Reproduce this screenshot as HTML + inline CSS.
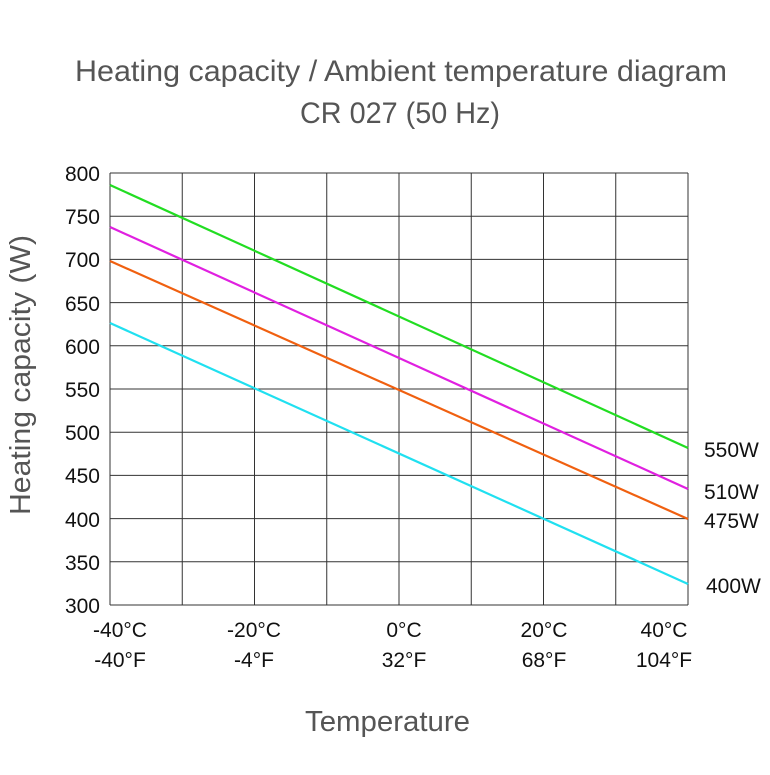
<!DOCTYPE html>
<html><head><style>body{margin:0;background:#fff}</style></head><body>
<svg width="770" height="770" xmlns="http://www.w3.org/2000/svg" font-family="'Liberation Sans Narrow','Liberation Sans',sans-serif">
<rect width="770" height="770" fill="#fff"/>
<text x="75" y="81" font-size="30" fill="#555" textLength="652" lengthAdjust="spacingAndGlyphs">Heating capacity / Ambient temperature diagram</text>
<text x="300" y="123" font-size="30" fill="#555" textLength="200" lengthAdjust="spacingAndGlyphs">CR 027 (50 Hz)</text>
<g stroke="#333" stroke-width="1">
<line x1="110" y1="173" x2="688" y2="173"/><line x1="110" y1="216.2" x2="688" y2="216.2"/><line x1="110" y1="259.4" x2="688" y2="259.4"/><line x1="110" y1="302.6" x2="688" y2="302.6"/><line x1="110" y1="345.8" x2="688" y2="345.8"/><line x1="110" y1="389" x2="688" y2="389"/><line x1="110" y1="432.2" x2="688" y2="432.2"/><line x1="110" y1="475.4" x2="688" y2="475.4"/><line x1="110" y1="518.6" x2="688" y2="518.6"/><line x1="110" y1="561.8" x2="688" y2="561.8"/><line x1="110" y1="605" x2="688" y2="605"/>
<line x1="110" y1="173" x2="110" y2="605"/><line x1="182.25" y1="173" x2="182.25" y2="605"/><line x1="254.5" y1="173" x2="254.5" y2="605"/><line x1="326.75" y1="173" x2="326.75" y2="605"/><line x1="399" y1="173" x2="399" y2="605"/><line x1="471.25" y1="173" x2="471.25" y2="605"/><line x1="543.5" y1="173" x2="543.5" y2="605"/><line x1="615.75" y1="173" x2="615.75" y2="605"/><line x1="688" y1="173" x2="688" y2="605"/>
</g>
<g stroke-width="2.2" fill="none">
<line x1="110" y1="185" x2="688" y2="448" stroke="#22dd22"/>
<line x1="110" y1="227" x2="688" y2="489" stroke="#e020e0"/>
<line x1="110" y1="261" x2="688" y2="519" stroke="#f06010"/>
<line x1="110" y1="323" x2="688" y2="584" stroke="#20e0f0"/>
</g>
<g font-size="21" fill="#111" text-anchor="end">
<text x="100" y="181">800</text><text x="100" y="224">750</text><text x="100" y="267">700</text><text x="100" y="311">650</text><text x="100" y="354">600</text><text x="100" y="397">550</text><text x="100" y="440">500</text><text x="100" y="483">450</text><text x="100" y="527">400</text><text x="100" y="570">350</text><text x="100" y="613">300</text>
</g>
<g font-size="21" fill="#111" text-anchor="middle">
<text x="120" y="637">-40°C</text><text x="120" y="667">-40°F</text>
<text x="254" y="637">-20°C</text><text x="254" y="667">-4°F</text>
<text x="404" y="637">0°C</text><text x="404" y="667">32°F</text>
<text x="544" y="637">20°C</text><text x="544" y="667">68°F</text>
<text x="664" y="637">40°C</text><text x="664" y="667">104°F</text>
</g>
<g font-size="21" fill="#111">
<text x="704" y="457">550W</text><text x="704" y="499">510W</text><text x="704" y="528">475W</text><text x="706" y="593">400W</text>
</g>
<text x="305" y="731" font-size="29" fill="#555" textLength="165" lengthAdjust="spacingAndGlyphs">Temperature</text>
<text transform="translate(30,515) rotate(-90)" font-size="29" fill="#555" textLength="280" lengthAdjust="spacingAndGlyphs">Heating capacity (W)</text>
</svg>
</body></html>
